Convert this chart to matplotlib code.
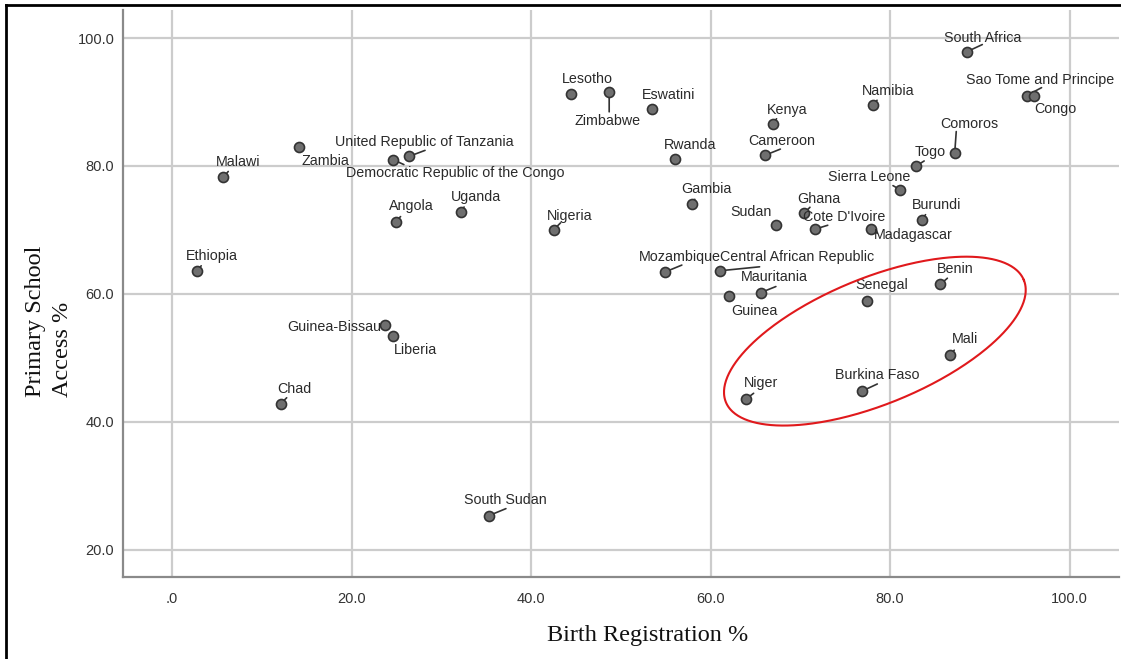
import numpy as np
import matplotlib
matplotlib.use("Agg")
import matplotlib.pyplot as plt
from matplotlib.lines import Line2D

# ---------------- data ----------------
countries = [
    "South Africa", "Sao Tome and Principe", "Congo", "Namibia", "Comoros", "Togo",
    "Kenya", "Cameroon", "Sierra Leone", "Burundi", "Ghana", "Cote D'Ivoire",
    "Madagascar", "Sudan", "Gambia", "Rwanda", "Eswatini", "Lesotho", "Zimbabwe",
    "Nigeria", "Uganda", "Angola", "United Republic of Tanzania",
    "Democratic Republic of the Congo", "Zambia", "Malawi", "Ethiopia",
    "Guinea-Bissau", "Liberia", "Chad", "South Sudan", "Mozambique",
    "Central African Republic", "Mauritania", "Guinea", "Senegal", "Benin",
    "Mali", "Burkina Faso", "Niger",
]
birth_registration = [
    88.6, 95.2, 96.0, 78.1, 87.2, 82.9,
    66.9, 66.1, 81.1, 83.5, 70.4, 71.6,
    77.9, 67.3, 57.9, 56.0, 53.5, 44.5, 48.7,
    42.5, 32.2, 24.9, 26.4,
    24.6, 14.1, 5.7, 2.8,
    23.7, 24.6, 12.1, 35.3, 54.9,
    61.0, 65.6, 62.0, 77.4, 85.6,
    86.7, 76.9, 63.9,
]
primary_access = [
    97.9, 91.0, 91.0, 89.5, 82.1, 80.0,
    86.6, 81.7, 76.3, 71.6, 72.6, 70.1,
    70.1, 70.7, 74.0, 81.1, 88.9, 91.2, 91.6,
    70.0, 72.8, 71.3, 81.5,
    81.0, 82.9, 78.2, 63.6,
    55.1, 53.4, 42.8, 25.3, 63.4,
    63.6, 60.2, 59.6, 58.8, 61.5,
    50.4, 44.8, 43.5,
]
x_ticks = [0, 20, 40, 60, 80, 100]
x_tick_labels = [".0", "20.0", "40.0", "60.0", "80.0", "100.0"]
y_ticks = [20, 40, 60, 80, 100]
y_tick_labels = ["20.0", "40.0", "60.0", "80.0", "100.0"]

# ---------------- label placement (pixel offsets: text centre, leader end) -------------
label_offset = {
    "South Africa": (15, 14), "Sao Tome and Principe": (14, 16), "Congo": (22, -13),
    "Namibia": (15, 14), "Comoros": (15, 29), "Togo": (14, 14), "Kenya": (15, 14),
    "Cameroon": (16, 14), "Sierra Leone": (-31, 13), "Burundi": (15, 15),
    "Ghana": (15, 14), "Cote D'Ivoire": (29, 12), "Madagascar": (42, -6),
    "Sudan": (-25, 13), "Gambia": (15, 15), "Rwanda": (15, 14), "Eswatini": (16, 14),
    "Lesotho": (16, 15), "Zimbabwe": (-2, -29), "Nigeria": (16, 14), "Uganda": (15, 15),
    "Angola": (16, 16), "United Republic of Tanzania": (15, 14),
    "Democratic Republic of the Congo": (62, -13), "Zambia": (27, -14),
    "Malawi": (15, 15), "Ethiopia": (15, 15), "Guinea-Bissau": (-51, -2),
    "Liberia": (23, -14), "Chad": (14, 15), "South Sudan": (16, 16),
    "Mozambique": (15, 15), "Central African Republic": (77, 14),
    "Mauritania": (14, 16), "Guinea": (26, -15), "Senegal": (15, 16),
    "Benin": (15, 15), "Mali": (15, 16), "Burkina Faso": (15, 16), "Niger": (15, 16),
}
leader_end = {
    "South Africa": (15, 7), "Sao Tome and Principe": (15, 8), "Namibia": (4, 5),
    "Comoros": (1.5, 21), "Togo": (8, 5), "Kenya": (4, 5), "Cameroon": (15, 6),
    "Sierra Leone": (-7, 4), "Burundi": (4, 5), "Ghana": (6, 6),
    "Cote D'Ivoire": (13, 4), "Madagascar": (6, -4), "Gambia": (3, 5),
    "Zimbabwe": (0, -20), "Nigeria": (7, 7), "Uganda": (3, 5), "Angola": (5, 5),
    "United Republic of Tanzania": (16, 6), "Democratic Republic of the Congo": (11, -5),
    "Malawi": (5, 6), "Ethiopia": (4, 5), "Chad": (6, 6), "South Sudan": (17, 7),
    "Mozambique": (17, 7), "Central African Republic": (40, 4), "Mauritania": (15, 6),
    "Benin": (7, 6), "Mali": (4, 5), "Burkina Faso": (15, 7), "Niger": (8, 6),
}

# ---------------- figure ----------------
W, H, DPI = 1121, 659, 100
fig = plt.figure(figsize=(W / DPI, H / DPI), dpi=DPI)
fig.patch.set_facecolor("white")
ax = fig.add_axes([122.7 / W, 1 - 577 / H, (1119 - 122.7) / W, (577 - 10) / H])

ax.set_xlim(-5.5, 105.5)
ax.set_ylim(15.7, 104.4)
ax.set_xticks(x_ticks)
ax.set_xticklabels(x_tick_labels)
ax.set_yticks(y_ticks)
ax.set_yticklabels(y_tick_labels)
ax.tick_params(length=0, labelsize=10.5, labelcolor="#333333")
ax.tick_params(axis="x", pad=11)
ax.tick_params(axis="y", pad=6)
for lab in ax.get_xticklabels() + ax.get_yticklabels():
    lab.set_fontfamily("Liberation Sans")
ax.grid(True, color="#cccccc", linewidth=1.6)
ax.set_axisbelow(True)
for s in ["top", "right"]:
    ax.spines[s].set_visible(False)
for s in ["left", "bottom"]:
    ax.spines[s].set_color("#8a8a8a")
    ax.spines[s].set_linewidth(1.6)

# leaders
for name, bx, py in zip(countries, birth_registration, primary_access):
    if name in leader_end:
        ax.annotate("", xy=(bx, py), xytext=leader_end[name], textcoords="offset pixels",
                    arrowprops=dict(arrowstyle="-", color="#333333", lw=1.2,
                                    shrinkA=0, shrinkB=0), zorder=2)

ax.scatter(birth_registration, primary_access, s=52, facecolor="#6f6f6f",
           edgecolor="#333333", linewidth=1.2, zorder=3)

for name, bx, py in zip(countries, birth_registration, primary_access):
    ax.annotate(name, (bx, py), xytext=label_offset[name], textcoords="offset pixels",
                ha="center", va="center", fontsize=10.3, color="#2a2a2a",
                family="Liberation Sans", zorder=4)

# red ellipse (defined in pixel space around a data centre)
ell_cx, ell_cy = 78.3, 52.6
ell_a, ell_b, ell_ang = 161, 63, 22.3
cpx = ax.transData.transform((ell_cx, ell_cy))
t = np.linspace(0, 2 * np.pi, 400)
th = np.deg2rad(ell_ang)
ex = ell_a * np.cos(t) * np.cos(th) - ell_b * np.sin(t) * np.sin(th) + cpx[0]
ey = ell_a * np.cos(t) * np.sin(th) + ell_b * np.sin(t) * np.cos(th) + cpx[1]
pts = ax.transData.inverted().transform(np.column_stack([ex, ey]))
ax.plot(pts[:, 0], pts[:, 1], color="#e0191c", lw=1.5, zorder=5)

# axis titles
fig.text(648 / W, 1 - 635 / H, "Birth Registration %", ha="center", va="center",
         fontsize=17.5, family="Liberation Serif", color="#111111")
fig.text(49 / W, 1 - 397 / H, "Primary School\nAccess %", ha="center", va="bottom",
         rotation=90, multialignment="left", fontsize=17.5,
         family="Liberation Serif", color="#111111", linespacing=1.35)

# outer frame (left and top edges visible)
fig.add_artist(Line2D([5.5 / W, 5.5 / W], [0, 1 - 4.5 / H], transform=fig.transFigure,
                      color="black", lw=2))
fig.add_artist(Line2D([5.5 / W, 1], [1 - 4.5 / H, 1 - 4.5 / H], transform=fig.transFigure,
                      color="black", lw=2))

fig.savefig("out.png", dpi=DPI)
